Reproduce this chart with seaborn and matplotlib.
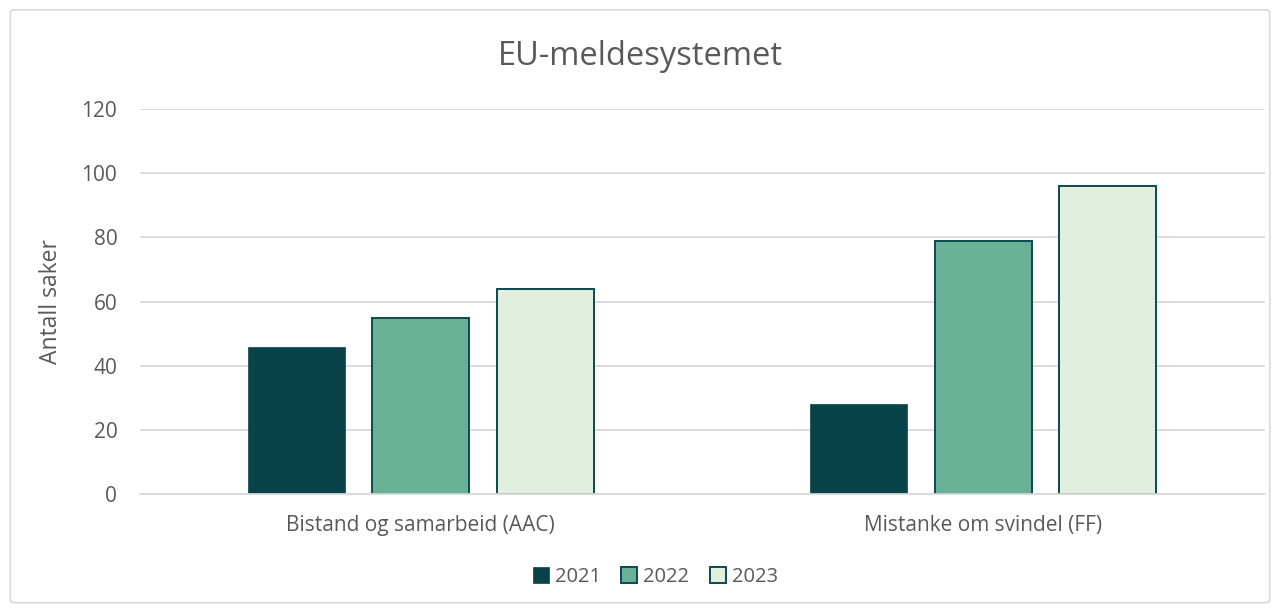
import pandas as pd
import matplotlib.pyplot as plt
import seaborn as sns
from matplotlib.patches import FancyBboxPatch

# chart data
categories = ["Bistand og samarbeid (AAC)", "Mistanke om svindel (FF)"]
years = ["2021", "2022", "2023"]
cases_2021 = [46, 28]
cases_2022 = [55, 79]
cases_2023 = [64, 96]

colors = ["#08434A", "#69B196", "#E1EFDF"]
edge = "#0B4A50"
grey_text = "#595959"
grid_col = "#D9D9D9"

df = pd.DataFrame({
    "kategori": categories * 3,
    "år": [y for y in years for _ in categories],
    "antall": cases_2021 + cases_2022 + cases_2023,
})

sns.set_theme(style="white")
plt.rcParams["font.family"] = ["Open Sans", "DejaVu Sans"]

fig = plt.figure(figsize=(12.8, 6.1), dpi=100)
ax = fig.add_axes([0.109, 0.19, 0.879, 0.631])

sns.barplot(data=df, x="kategori", y="antall", hue="år", hue_order=years,
            palette=colors, width=0.664, gap=0.22, legend=False, ax=ax,
            saturation=1)

# edges like the original (2021 has none visible)
for cont, col in zip(ax.containers, colors):
    for bar in cont:
        if col == colors[0]:
            bar.set_edgecolor(col)
            bar.set_linewidth(0.5)
        else:
            bar.set_edgecolor(edge)
            bar.set_linewidth(1.4)

ax.set_ylim(0, 120)
ax.set_xlim(-0.5, 1.5)
ax.set_yticks(range(0, 121, 20))
ax.set_axisbelow(True)
ax.yaxis.grid(True, color=grid_col, linewidth=1.3)
for s in ["top", "right", "left"]:
    ax.spines[s].set_visible(False)
ax.spines["bottom"].set_color(grid_col)
ax.spines["bottom"].set_linewidth(1.3)
ax.tick_params(axis="both", length=0, labelsize=15, colors=grey_text)
ax.tick_params(axis="y", pad=16)
ax.tick_params(axis="x", pad=15)
for lbl in ax.get_xticklabels():
    lbl.set_fontsize(15)

ax.set_xlabel("")
ax.set_ylabel("Antall saker", fontsize=16.5, color=grey_text, labelpad=13)

fig.text(0.5, 0.907, "EU-meldesystemet", ha="center", va="center",
         fontsize=23.5, color=grey_text)

leg = ax.legend(ax.containers, years, loc="center", bbox_to_anchor=(0.512, 0.054),
                bbox_transform=fig.transFigure, ncol=3, frameon=False,
                fontsize=14.5, handlelength=0.8, handleheight=0.8,
                handletextpad=0.3, columnspacing=1.0)
for t in leg.get_texts():
    t.set_color(grey_text)

# outer chart border
fig.patches.append(FancyBboxPatch((0.008, 0.012), 0.984, 0.972,
                                  boxstyle="round,pad=0,rounding_size=0.004",
                                  transform=fig.transFigure, fill=False,
                                  edgecolor="#D9D9D9", linewidth=1.2))

fig.savefig("out.png", dpi=100)
